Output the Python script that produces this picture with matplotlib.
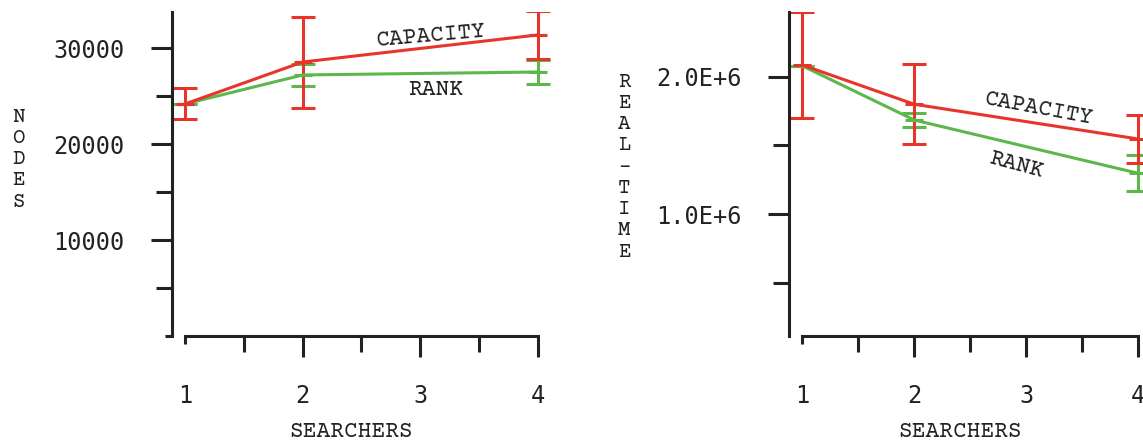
import matplotlib
matplotlib.use('Agg')
import matplotlib.pyplot as plt
import matplotlib.transforms as mtransforms
from matplotlib.ticker import FixedLocator

# data
searchers = [1, 2, 4]

nodes_capacity = [24200, 28570, 31390]
nodes_capacity_err = [1615, 4740, 2500]
nodes_rank = [24200, 27220, 27530]
nodes_rank_err = [0, 1150, 1280]

rt_capacity = [2.086e6, 1.80e6, 1.547e6]
rt_capacity_err = [0.385e6, 0.29e6, 0.175e6]
rt_rank = [2.08e6, 1.685e6, 1.297e6]
rt_rank_err = [0, 0.05e6, 0.13e6]

x_ticks = [1, 2, 3, 4]
x_minor = [1.5, 2.5, 3.5]
nodes_ticks = [0, 10000, 20000, 30000]
nodes_labels = ['', '10000', '20000', '30000']
nodes_minor = [5000, 15000, 25000]
rt_ticks = [1.0e6, 2.0e6]
rt_labels = ['1.0E+6', '2.0E+6']
rt_minor = [0.5e6, 1.5e6]

RED = '#e8352c'
GREEN = '#5cb84a'
INK = '#222222'
SERIF = ['Courier Prime', 'Liberation Mono', 'DejaVu Sans Mono']

plt.rcParams['font.family'] = 'DejaVu Sans Mono'

W, H = 1143, 443
fig = plt.figure(figsize=(W / 100, H / 100), dpi=100)
ax1 = fig.add_axes([172 / W, 106.7 / H, 378.7 / W, 324.6 / H])
ax2 = fig.add_axes([789 / W, 106.7 / H, 354 / W, 324.6 / H])


def draw_panel(ax, cap, cap_err, rank, rank_err):
  kw = dict(lw=2.2, elinewidth=2.2, capsize=8.8, capthick=2.2, marker='_', ms=13, mew=2.2)
  ax.errorbar(searchers, rank, yerr=rank_err, color=GREEN, **kw)
  ax.errorbar(searchers, cap, yerr=cap_err, color=RED, **kw)
  for s in ['top', 'right']:
    ax.spines[s].set_visible(False)
  for s in ['left', 'bottom']:
    ax.spines[s].set_linewidth(2.2)
    ax.spines[s].set_color(INK)
  ax.spines['bottom'].set_bounds(1, 4)
  ax.xaxis.set_major_locator(FixedLocator(x_ticks))
  ax.xaxis.set_minor_locator(FixedLocator(x_minor))
  ax.set_xticklabels([str(t) for t in x_ticks])
  ax.tick_params(which='major', length=15, width=2.2, pad=19, labelsize=17,
                 direction='out', color=INK, labelcolor=INK)
  ax.tick_params(which='minor', length=11.5, width=2.2, direction='out', color=INK)
  trans = mtransforms.blended_transform_factory(ax.transData, ax.transAxes)
  ax.text(2.41, -0.309, 'SEARCHERS', transform=trans, ha='center', va='baseline',
          family=SERIF, fontsize=16.5, color=INK)


draw_panel(ax1, nodes_capacity, nodes_capacity_err, nodes_rank, nodes_rank_err)
ax1.set_xlim(0.8895, 4.11)
ax1.set_ylim(0, 33810)
ax1.yaxis.set_major_locator(FixedLocator(nodes_ticks))
ax1.yaxis.set_minor_locator(FixedLocator(nodes_minor))
ax1.set_yticklabels(nodes_labels)
ax1.text(3.09, 31300, 'CAPACITY', rotation=5, rotation_mode='anchor', ha='center', va='center',
         family=SERIF, fontsize=16.5, color=INK)
ax1.text(3.13, 25660, 'RANK', ha='center', va='center', family=SERIF, fontsize=16.5, color=INK)

draw_panel(ax2, rt_capacity, rt_capacity_err, rt_rank, rt_rank_err)
ax2.set_xlim(0.881, 4.042)
ax2.set_ylim(0.1093e6, 2.4745e6)
ax2.yaxis.set_major_locator(FixedLocator(rt_ticks))
ax2.yaxis.set_minor_locator(FixedLocator(rt_minor))
ax2.set_yticklabels(rt_labels)
ax2.text(3.113, 1.7655e6, 'CAPACITY', rotation=-10.5, rotation_mode='anchor', ha='center', va='center',
         family=SERIF, fontsize=16.5, color=INK)
ax2.text(2.906, 1.357e6, 'RANK', rotation=-15, rotation_mode='anchor', ha='center', va='center',
         family=SERIF, fontsize=16.5, color=INK)

# short tick at the start of each axis
for ax in [ax1, ax2]:
  ax.xaxis.get_major_ticks(len(x_ticks))[0].tick1line.set_markersize(5.8)
ax1.yaxis.get_major_ticks(len(nodes_ticks))[0].tick1line.set_markersize(5)

# stacked y axis titles
def stacked(label, x, y0):
  for i, ch in enumerate(label):
    fig.text(x / W, 1 - (y0 + i * 21.25) / H, ch, ha='center', va='baseline',
             family=SERIF, fontsize=15, color=INK)

stacked('NODES', 18.3, 121.7)
stacked('REAL-TIME', 624, 86.7)

fig.savefig('out.png', dpi=100)
